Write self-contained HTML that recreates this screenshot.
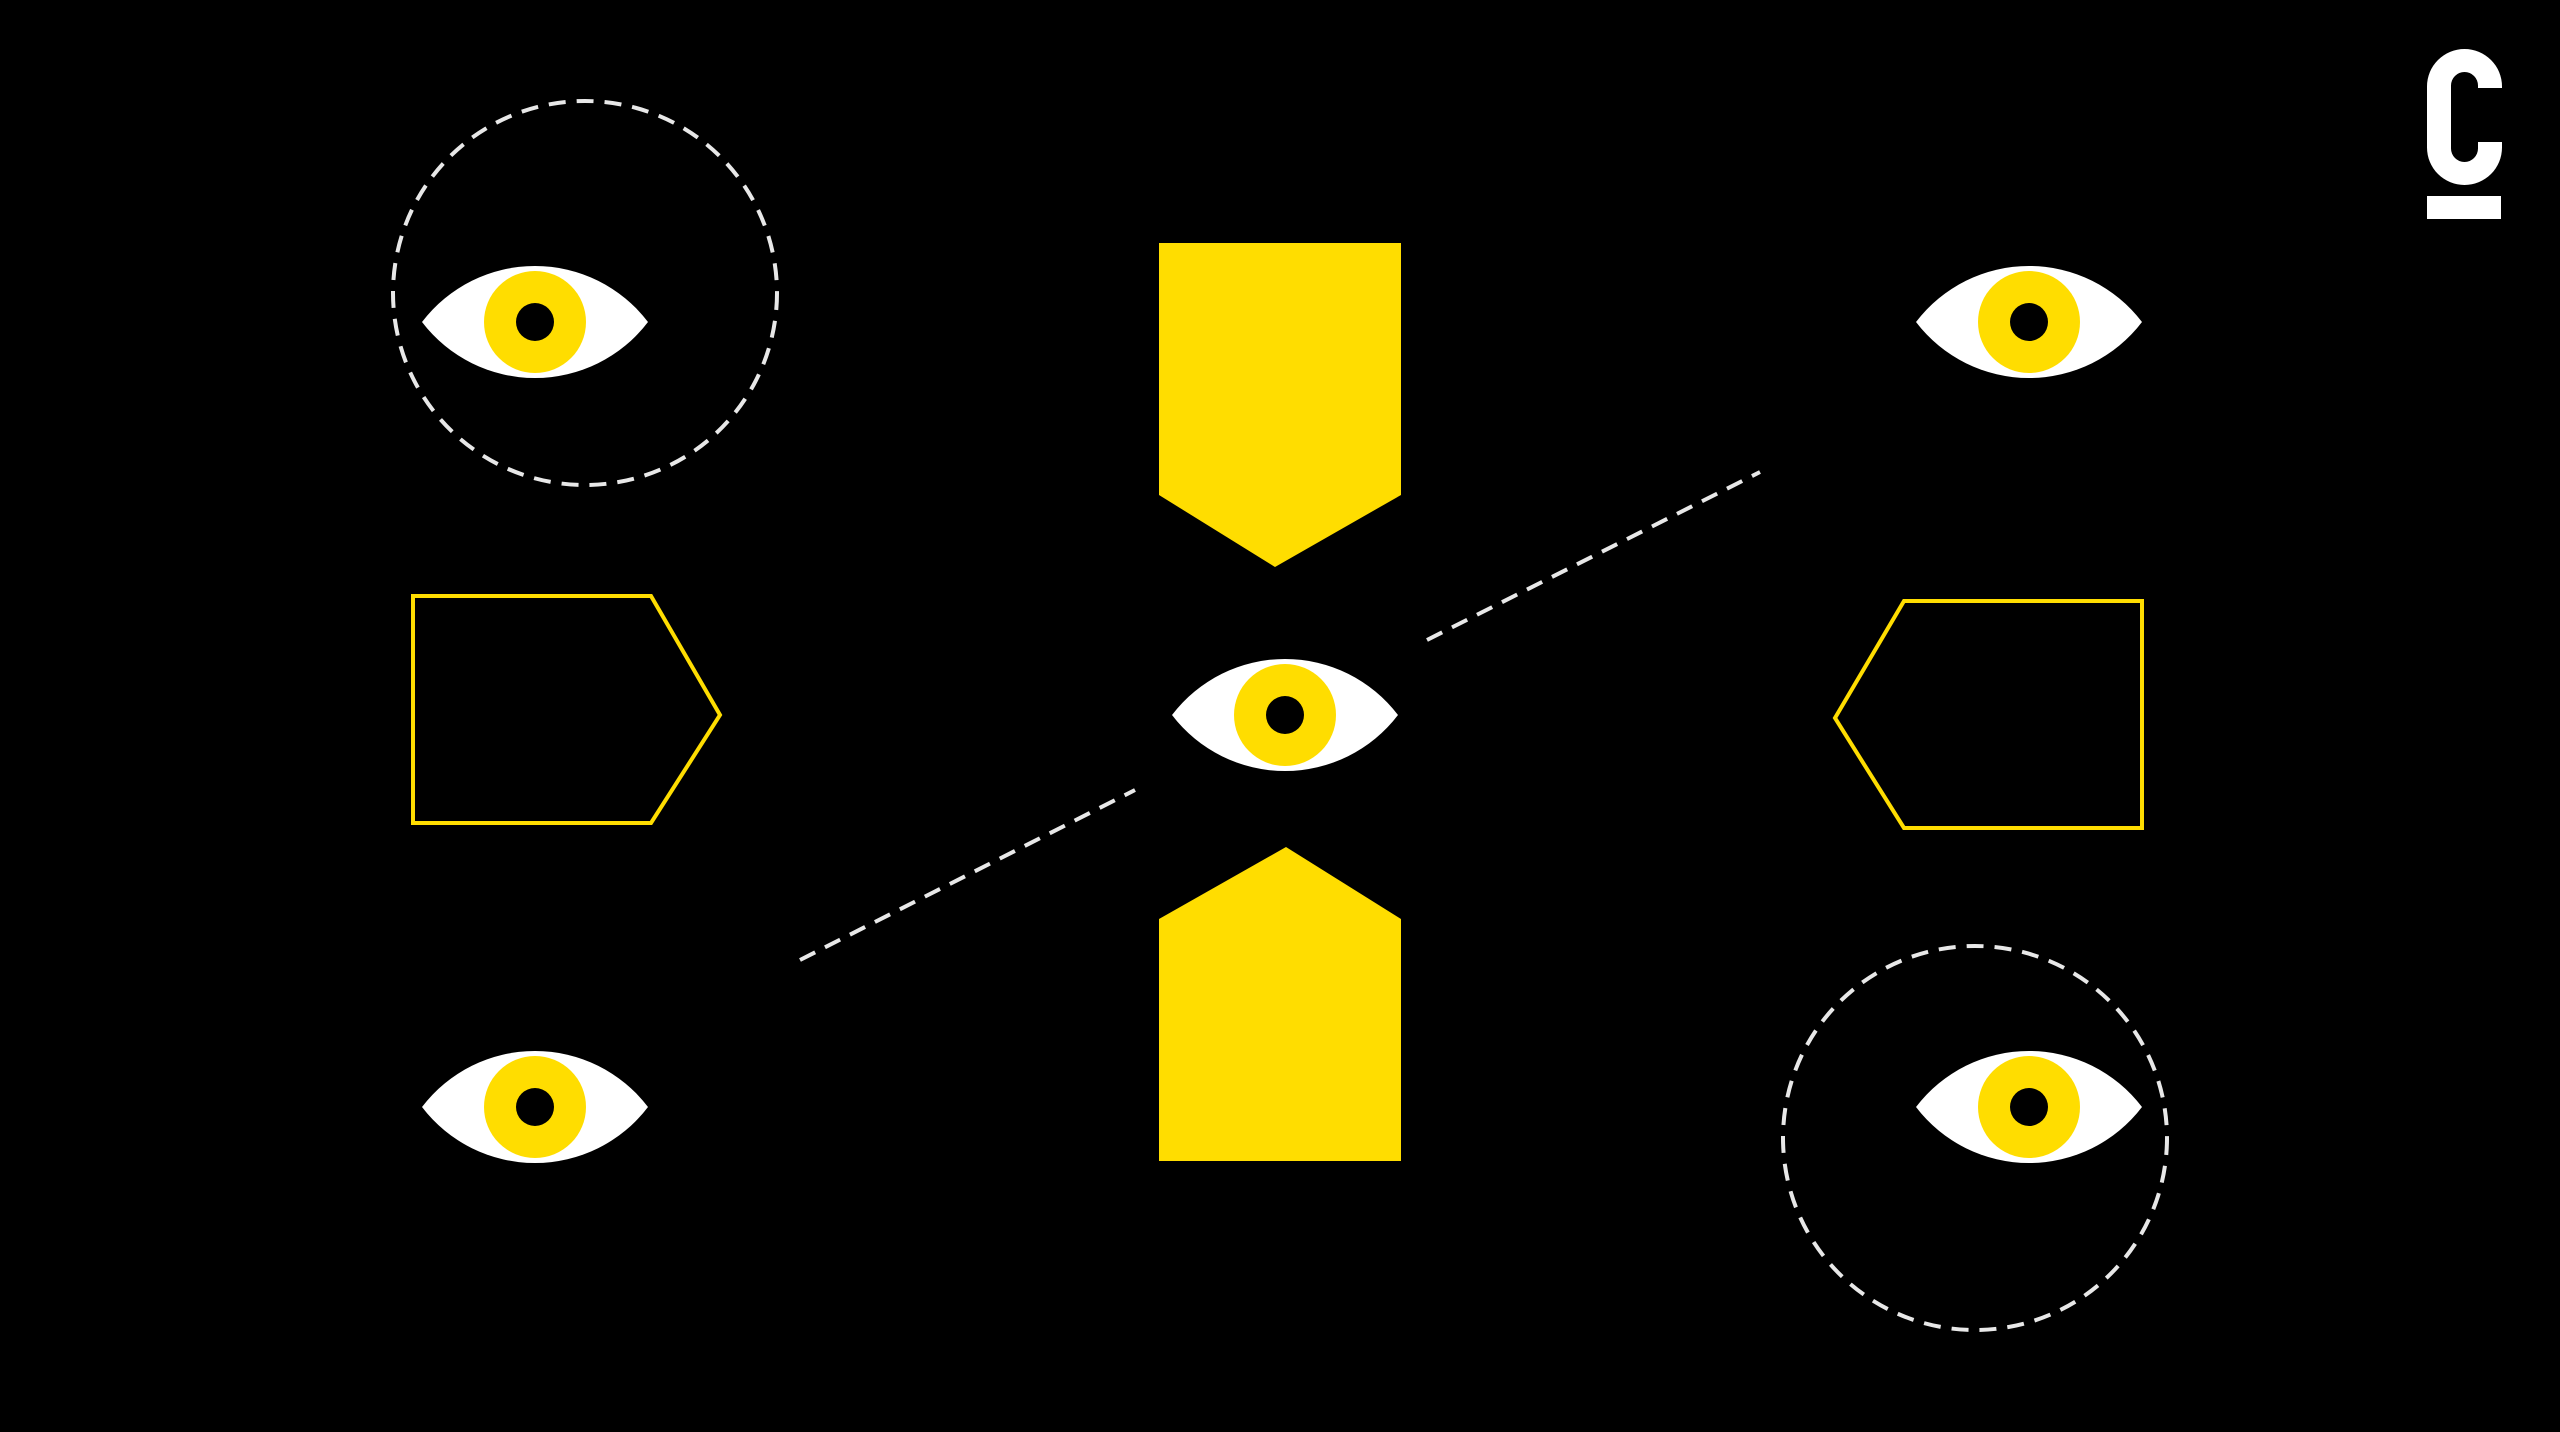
<!DOCTYPE html>
<html><head><style>html,body{margin:0;padding:0;background:#000;}svg{display:block}</style></head>
<body>
<svg width="2560" height="1432" viewBox="0 0 2560 1432" xmlns="http://www.w3.org/2000/svg">
<rect width="2560" height="1432" fill="#000"/>
<defs>
<g id="eye">
<path d="M-113,0 A142,142 0 0 1 113,0 A142,142 0 0 1 -113,0 Z" fill="#fff"/>
<circle r="51" fill="#FFDD00"/>
<circle r="19" fill="#000"/>
</g>
</defs>
<g fill="none" stroke="#e8e8e8" stroke-width="4" stroke-dasharray="17 11">
<circle cx="585" cy="293" r="192"/>
<circle cx="1975" cy="1138" r="192"/>
<line x1="800" y1="960" x2="1135" y2="790"/>
<line x1="1427" y1="640" x2="1760" y2="472"/>
</g>
<use href="#eye" x="535" y="322"/>
<use href="#eye" x="2029" y="322"/>
<use href="#eye" x="535" y="1107"/>
<use href="#eye" x="2029" y="1107"/>
<use href="#eye" x="1285" y="715"/>
<polygon points="1159,243 1401,243 1401,495 1275,567 1159,495" fill="#FFDD00"/>
<polygon points="1159,1161 1401,1161 1401,919 1286,847 1159,919" fill="#FFDD00"/>
<polygon points="413,596 651,596 720,715 651,823 413,823" fill="none" stroke="#FFDD00" stroke-width="4"/>
<polygon points="1904,601 2142,601 2142,828 1904,828 1835,718" fill="none" stroke="#FFDD00" stroke-width="4"/>
<path d="M2502,88 L2502,86.5 A37.5,37.5 0 0 0 2427,86.5 L2427,147.5 A37.5,37.5 0 0 0 2502,147.5 L2502,142 L2478,142 L2478,148.5 A13.5,13.5 0 0 1 2451,148.5 L2451,85.5 A13.5,13.5 0 0 1 2478,85.5 L2478,88 Z" fill="#fff"/>
<rect x="2427" y="196" width="74" height="23" fill="#fff"/>
</svg>
</body></html>
